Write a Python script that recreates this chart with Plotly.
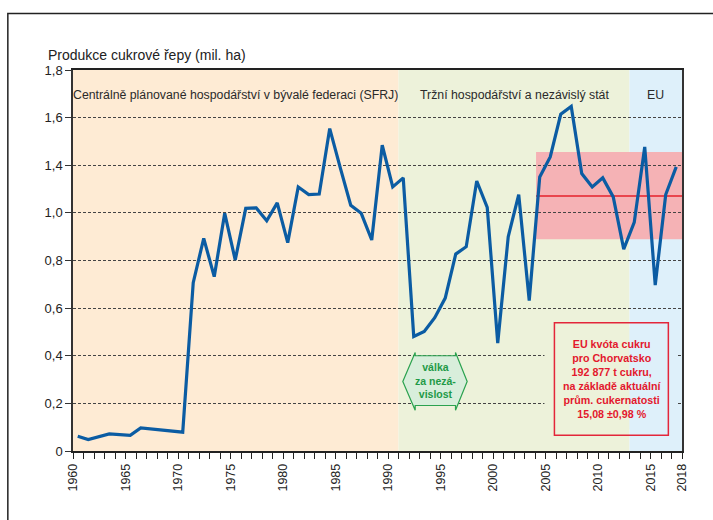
import plotly.graph_objects as go

# production of sugar beet (values as placed against the chart's own y ticks)
years = [1960, 1961, 1963, 1965, 1966, 1970,
         1971, 1972, 1973, 1974, 1975, 1976, 1977, 1978, 1979, 1980,
         1981, 1982, 1983, 1984, 1985, 1986, 1987, 1988, 1989, 1990,
         1991, 1992, 1993, 1994, 1995, 1996, 1997, 1998, 1999, 2000,
         2001, 2002, 2003, 2004, 2005, 2006, 2007, 2008, 2009, 2010,
         2011, 2012, 2013, 2014, 2015, 2016, 2017]
production = [0.062, 0.048, 0.072, 0.066, 0.097, 0.079,
              0.707, 0.893, 0.732, 0.998, 0.802, 1.019, 1.021, 0.967, 1.042, 0.875,
              1.109, 1.077, 1.079, 1.354, 1.19, 1.032, 0.998, 0.886, 1.284, 1.109,
              1.147, 0.481, 0.502, 0.560, 0.642, 0.827, 0.858, 1.134, 1.023, 0.453,
              0.900, 1.077, 0.632, 1.151, 1.235, 1.414, 1.447, 1.165, 1.109, 1.147,
              1.067, 0.848, 0.960, 1.277, 0.697, 1.077, 1.193]

y_tickvals = [0, 0.2, 0.4, 0.6, 0.8, 1.0, 1.2, 1.4, 1.6]
y_ticktext = ["0", "0,2", "0,4", "0,6", "0,8", "1,0", "1,4", "1,6", "1,8"]
x_labeled = [1960, 1965, 1970, 1975, 1980, 1985, 1990, 1995, 2000, 2005, 2010, 2015, 2018]

periods = [(1960, 1991, "#FEEBD4", "Centrálně plánované hospodářství v bývalé federaci (SFRJ)"),
           (1991, 2013, "#EDF2DA", "Tržní hospodářství a nezávislý stát"),
           (2013, 2018, "#DEF0FA", "EU")]

quota_start = 2004.1
quota_low, quota_mid, quota_high = 0.889, 1.071, 1.256

quota_text = ("EU kvóta cukru<br>pro Chorvatsko<br>192 877 t cukru,<br>"
              "na základě aktuální<br>prům. cukernatosti<br>15,08 ±0,98 %")

SANS = "Liberation Sans, Arial, sans-serif"

fig = go.Figure()
fig.add_trace(go.Scatter(
    x=[y + 0.45 for y in years], y=production, mode="lines",
    line=dict(color="#0b5ca3", width=3.2), hoverinfo="skip",
))

shapes = []
for x0, x1, col, _ in periods:
    shapes.append(dict(type="rect", xref="x", yref="y", x0=x0, x1=x1, y0=0, y1=1.6,
                       fillcolor=col, line_width=0, layer="below"))
shapes.append(dict(type="rect", xref="x", yref="y", x0=quota_start, x1=2018,
                   y0=quota_low, y1=quota_high, fillcolor="#F5B2B5", line_width=0, layer="below"))
shapes.append(dict(type="line", xref="x", yref="y", x0=quota_start, x1=2018,
                   y0=quota_mid, y1=quota_mid, line=dict(color="#E5202B", width=1.5), layer="between"))

# patches hiding grid inside the quota text box
shapes.append(dict(type="rect", xref="x", yref="y", x0=2004.9, x1=2013, y0=0.09, y1=0.52,
                   fillcolor="#EDF2DA", line_width=0, layer="above"))
shapes.append(dict(type="rect", xref="x", yref="y", x0=2013, x1=2017.5, y0=0.09, y1=0.52,
                   fillcolor="#DEF0FA", line_width=0, layer="above"))
shapes.append(dict(type="rect", xref="x", yref="y", x0=2005.85, x1=2016.7, y0=0.066, y1=0.539,
                   line=dict(color="#E3263A", width=1.5), layer="above"))

# war double arrow
arrow = ("M 1991.41,0.292 L 1992.59,0.414 L 1992.59,0.400 L 1996.43,0.400 "
         "L 1996.43,0.414 L 1997.54,0.292 L 1996.43,0.171 L 1996.43,0.191 "
         "L 1992.59,0.191 L 1992.59,0.171 Z")
shapes.append(dict(type="path", xref="x", yref="y", path=arrow, fillcolor="#D8EEDB",
                   line=dict(color="#2BA24F", width=1.2), layer="above"))

# outer frame of the figure
shapes.append(dict(type="path", xref="paper", yref="paper",
                   path="M -0.107,-0.2 L -0.107,1.148 L 1.1,1.148",
                   line=dict(color="#222", width=1.5)))

annotations = []
for x0, x1, _, label in periods:
    annotations.append(dict(x=(x0 + x1) / 2, y=0.959, xref="x", yref="paper", text=label,
                            showarrow=False, font=dict(family=SANS, size=12.3, color="#2a2a2a")))
annotations.append(dict(x=-0.045, y=1.066, xref="paper", yref="paper", xanchor="left",
                        text="Produkce cukrové řepy (mil. ha)", showarrow=False,
                        font=dict(family=SANS, size=14, color="#222")))
annotations.append(dict(x=2011.29, y=0.304, xref="x", yref="y", text="<b>" + quota_text + "</b>",
                        showarrow=False, font=dict(family=SANS, size=10.7, color="#E3182D")))
annotations.append(dict(x=1994.48, y=0.295, xref="x", yref="y",
                        text="<b>válka<br>za nezá-<br>vislost</b>", showarrow=False,
                        font=dict(family=SANS, size=10.5, color="#1F9A47")))

fig.update_layout(
    width=713, height=520,
    margin=dict(l=72.5, r=30.5, t=69.5, b=68.5),
    paper_bgcolor="white", plot_bgcolor="white",
    showlegend=False,
    shapes=shapes, annotations=annotations,
    font=dict(family=SANS, size=13, color="#222"),
)
fig.update_xaxes(
    range=[1960, 2018], tickmode="array",
    tickvals=list(range(1960, 2019)),
    ticktext=[str(y) if y in x_labeled else "" for y in range(1960, 2019)],
    tickangle=-90, ticks="outside", ticklen=6, tickcolor="#222",
    tickfont=dict(size=12.5),
    showgrid=False, showline=True, linecolor="#222", linewidth=1.5,
    mirror=True, zeroline=False,
)
fig.update_yaxes(
    range=[0, 1.6], tickmode="array", tickvals=y_tickvals, ticktext=y_ticktext,
    ticks="outside", ticklen=6, tickcolor="#333",
    showgrid=True, gridcolor="#444", griddash="3px,2px", gridwidth=1,
    showline=True, linecolor="#333", linewidth=1.5, mirror=True, zeroline=False,
)

fig.write_html("out.html", config={"displayModeBar": False},
               post_script="document.body.style.margin = '0px';")
